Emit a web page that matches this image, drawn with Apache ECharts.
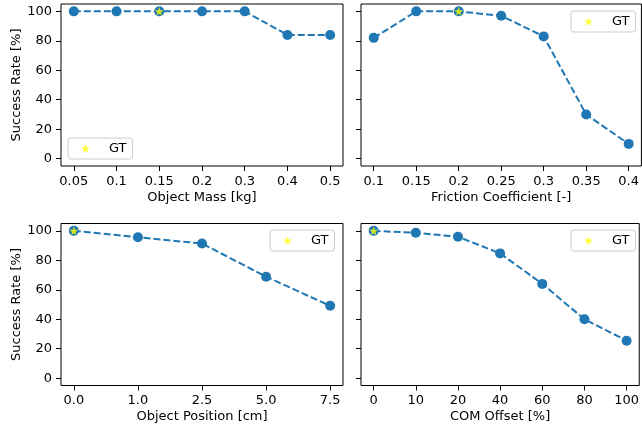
<!DOCTYPE html>
<html>
<head>
<meta charset="utf-8">
<script src="https://cdn.jsdelivr.net/npm/echarts@6/dist/echarts.min.js"></script>
<style>
html,body{margin:0;padding:0;background:#fff;}
#c{width:642px;height:425px;}
</style>
</head>
<body>
<div id="c"></div>
<script>
// ---- data ----
const yTicks = [0, 20, 40, 60, 80, 100];

const massLabels = ['0.05', '0.1', '0.15', '0.2', '0.3', '0.4', '0.5'];
const massRate = [100, 100, 100, 100, 100, 84, 84];
const massGT = 2;

const frictionLabels = ['0.1', '0.15', '0.2', '0.25', '0.3', '0.35', '0.4'];
const frictionRate = [82, 100, 100, 97, 83, 30, 10];
const frictionGT = 2;

const positionLabels = ['0.0', '1.0', '2.5', '5.0', '7.5'];
const positionRate = [100, 95.7, 91.4, 68.9, 49.1];
const positionGT = 0;

const comLabels = ['0', '10', '20', '40', '60', '80', '100'];
const comRate = [100, 98.7, 96, 84.7, 64, 40, 25.4];
const comGT = 0;

const panelTitles = ['Object Mass [kg]', 'Friction Coefficient [-]', 'Object Position [cm]', 'COM Offset [%]'];
const yTitle = 'Success Rate [%]';
const gtName = 'GT';

// ---- layout / style ----
const FONT = 'DejaVu Sans';
const BLUE = '#1f77b4';
const STAR = 'path://M50,0 L61.8,35.1 L98.1,35.1 L68.7,56.7 L79.4,91 L50,70 L20.6,91 L31.3,56.7 L1.9,35.1 L38.2,35.1 Z';

const panels = [
  {labels: massLabels, rate: massRate, gt: massGT, left: 61, top: 4, showY: true, legend: {left: 68, top: 138}},
  {labels: frictionLabels, rate: frictionRate, gt: frictionGT, left: 361, top: 4, showY: false, legend: {left: 571, top: 11}},
  {labels: positionLabels, rate: positionRate, gt: positionGT, left: 61, top: 223.5, showY: true, legend: {left: 270, top: 230}},
  {labels: comLabels, rate: comRate, gt: comGT, left: 361, top: 223.5, showY: false, legend: {left: 571, top: 230}}
];

const grid = [], xAxis = [], yAxis = [], series = [], legend = [];
panels.forEach((p, i) => {
  const n = p.labels.length;
  const idx = p.labels.map((_, k) => k);
  const pad = (n - 1) * 0.05;
  grid.push({left: p.left, top: p.top, width: 282, height: 162, show: true,
    borderColor: '#000', borderWidth: 1, backgroundColor: 'transparent', containLabel: false});
  xAxis.push({type: 'value', gridIndex: i, min: -pad, max: n - 1 + pad, position: 'bottom',
    name: panelTitles[i], nameLocation: 'middle', nameGap: 25,
    nameTextStyle: {fontFamily: FONT, fontSize: 13, color: '#000'},
    axisLine: {show: false, onZero: false}, splitLine: {show: false},
    axisTick: {show: true, inside: false, length: 5, customValues: idx, lineStyle: {color: '#000', width: 1}},
    axisLabel: {show: true, customValues: idx, margin: 9, fontFamily: FONT, fontSize: 13, color: '#000',
      formatter: (v) => p.labels[Math.round(v)]}
  });
  yAxis.push({type: 'value', gridIndex: i, min: -5, max: 105, position: 'left',
    name: p.showY ? yTitle : '', nameLocation: 'middle', nameGap: 38, nameRotate: 90,
    nameTextStyle: {fontFamily: FONT, fontSize: 13, color: '#000'},
    axisLine: {show: false, onZero: false}, splitLine: {show: false},
    axisTick: {show: true, inside: false, length: 5, customValues: yTicks, lineStyle: {color: '#000', width: 1}},
    axisLabel: {show: p.showY, customValues: yTicks, margin: 9, fontFamily: FONT, fontSize: 13, color: '#000'}
  });
  series.push({type: 'line', xAxisIndex: i, yAxisIndex: i, name: 'rate' + i,
    data: p.rate.map((v, k) => [k, v]),
    symbol: 'circle', symbolSize: 10, showSymbol: true,
    itemStyle: {color: BLUE},
    lineStyle: {color: BLUE, width: 2, type: [7, 3]},
    animation: false, z: 2, clip: false});
  series.push({type: 'scatter', xAxisIndex: i, yAxisIndex: i, name: gtName + i,
    data: [[p.gt, p.rate[p.gt]]],
    symbol: STAR, symbolSize: 9, itemStyle: {color: '#ffff00'},
    animation: false, z: 5});
  legend.push({data: [{name: gtName + i, icon: STAR}], left: p.legend.left, top: p.legend.top,
    orient: 'vertical', itemWidth: 9, itemHeight: 9, itemGap: 0,
    formatter: () => gtName,
    padding: [4, 6, 4, 13],
    backgroundColor: 'rgba(255,255,255,0.8)', borderColor: '#cccccc', borderWidth: 1, borderRadius: 3,
    selectedMode: false,
    textStyle: {fontFamily: FONT, fontSize: 13, color: '#000', padding: [0, 0, 0, 14]},
    itemStyle: {color: '#ffff00'}});
});

const chart = echarts.init(document.getElementById('c'), null, {renderer: 'canvas'});
chart.setOption({animation: false, backgroundColor: '#fff', grid, xAxis, yAxis, series, legend});
</script>
</body>
</html>
